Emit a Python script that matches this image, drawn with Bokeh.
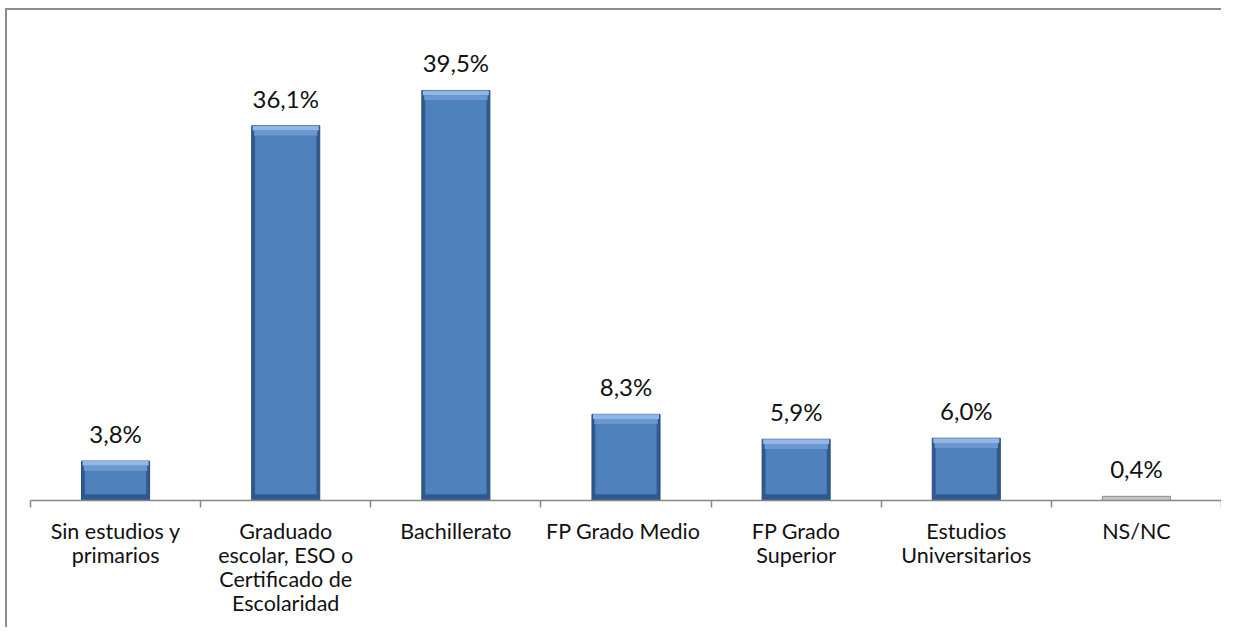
from bokeh.plotting import figure
from bokeh.models import (ColumnDataSource, Range1d, LinearAxis, FixedTicker, LabelSet)
from bokeh.core.properties import value
from bokeh.embed import file_html
from bokeh.resources import INLINE

# ---- data ----
categories = [
    "Sin estudios y\nprimarios",
    "Graduado\nescolar, ESO o\nCertificado de\nEscolaridad",
    "Bachillerato",
    "FP Grado  Medio",
    "FP Grado\nSuperior",
    "Estudios\nUniversitarios",
    "NS/NC",
]
values = [3.8, 36.1, 39.5, 8.3, 5.9, 6.0, 0.4]
value_labels = [f"{v:.1f}%".replace(".", ",") for v in values]

# ---- style ----
BODY = "#2f5a8f"       # dark bevel edges
FACE = "#4f81bd"
TOP_HL1 = "#92b6e5"
TOP_HL2 = "#6c98d1"
OUTLINE = "#2a4c78"
GREY = "#c4c4c4"
GREY_EDGE = "#8c8c8c"
AXIS = "#868686"
FONT = "Lato"
BAR_W = 0.40
BEVEL_1 = 0.45    # in value units
BEVEL_2 = 0.95
BEVEL_BOT = 0.6

n = len(categories)
centers = [i + 0.5 for i in range(n)]          # slot centres on a 0..n scale
bounds = list(range(n + 1))                      # slot boundaries

small = [v < 1 for v in values]
body_fill = [GREY if s else BODY for s in small]
body_line = [GREY_EDGE if s else OUTLINE for s in small]
# bevel layers (collapse to nothing on tiny bars)
h1_top = [0.0 if s else v for v, s in zip(values, small)]
h1_bot = [0.0 if s else v - BEVEL_1 for v, s in zip(values, small)]
h2_bot = [0.0 if s else v - BEVEL_2 for v, s in zip(values, small)]
face_bot = [0.0 if s else BEVEL_BOT for s in small]

src = ColumnDataSource(dict(x=centers, top=values, bf=body_fill, bl=body_line,
                            h1t=h1_top, h1b=h1_bot, h2b=h2_bot, fb=face_bot,
                            lab=value_labels))

p = figure(x_range=Range1d(0, n), y_range=Range1d(0, 46.05),
           width=1221, height=627, output_backend="svg",
           toolbar_location=None, x_axis_location=None, y_axis_location=None,
           min_border_left=30, min_border_right=0, min_border_top=22,
           min_border_bottom=127)
p.grid.visible = False
p.outline_line_color = None
p.background_fill_color = None
p.border_fill_color = None
p.styles = {"background-color": "#ffffff",
            "box-shadow": "inset 5px 8px 0 0 #ffffff, inset 7px 10px 0 0 #8c8c8c"}

xaxis = LinearAxis(ticker=FixedTicker(ticks=centers, minor_ticks=bounds),
                   major_label_overrides={c: lab for c, lab in zip(centers, categories)},
                   axis_line_color=AXIS, axis_line_width=1.5,
                   major_tick_line_color=None,
                   minor_tick_line_color=AXIS, minor_tick_line_width=1.5,
                   minor_tick_in=0, minor_tick_out=7,
                   major_label_standoff=10,
                   major_label_text_font=FONT,
                   major_label_text_font_size="21.5px",
                   major_label_text_line_height=0.93,
                   major_label_text_color="#111111")
p.add_layout(xaxis, "below")

p.vbar(x="x", top="top", bottom=0, width=BAR_W, source=src,
       fill_color="bf", line_color="bl", line_width=1)
p.vbar(x="x", top="h2b", bottom="fb", width=BAR_W * 0.9, source=src,
       fill_color=FACE, line_color=None)
p.vbar(x="x", top="h1b", bottom="h2b", width=BAR_W * 0.93, source=src,
       fill_color=TOP_HL2, line_color=None)
p.vbar(x="x", top="h1t", bottom="h1b", width=BAR_W * 0.97, source=src,
       fill_color=TOP_HL1, line_color=None)

labels = LabelSet(x="x", y="top", text="lab", source=src, y_offset=13,
                  text_align="center", text_baseline="bottom",
                  text_font=value(FONT), text_font_size=value("24px"),
                  text_color="#111111")
p.add_layout(labels)

open("out.html", "w").write(file_html(p, INLINE))
